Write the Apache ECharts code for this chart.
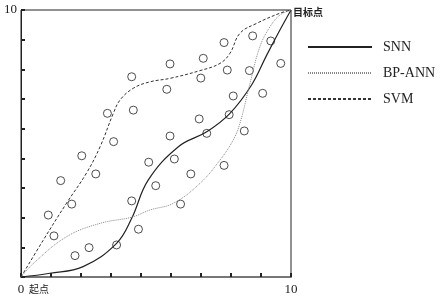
<!DOCTYPE html>
<html>
<head>
<meta charset="utf-8">
<script src="https://cdn.jsdelivr.net/npm/echarts@6/dist/echarts.min.js"></script>
<style>
  html, body { margin: 0; padding: 0; background: #fff; }
  #chart { width: 443px; height: 299px; }
</style>
</head>
<body>
<div id="chart"></div>
<script>
// curves from start (0,0) to target (10,10)
var snnCurve = [[0,0],[1.07,0.14],[2.3,0.39],[3.54,1.26],[4.1,2.2],[4.71,3.63],[5.83,4.88],[6.88,5.44],[7.74,6.13],[8.54,7.19],[9.1,8.31],[9.59,9.25],[10,10]];
var bpCurve = [[0,0],[0.46,0.51],[1.69,1.51],[2.93,2.01],[4.1,2.24],[4.78,2.51],[5.64,2.76],[6.63,3.51],[7.37,4.38],[7.86,5.13],[8.11,5.76],[8.48,7.25],[8.85,8.63],[9.22,9.37],[9.59,9.81],[10,10]];
var svmCurve = [[0,0],[0.83,1.39],[1.69,2.77],[2.43,3.9],[2.93,4.88],[3.42,6.13],[3.67,6.63],[4.16,7.07],[4.78,7.31],[5.52,7.44],[6.63,7.73],[7.37,8.0],[7.74,8.38],[8.11,9.13],[8.73,9.5],[9.59,9.88],[10,10]];

// sample points
var samples = [[1.01,2.32],[1.22,1.54],[1.47,3.61],[1.88,2.73],[2.0,0.8],[2.25,4.54],[2.52,1.1],[2.77,3.86],[3.2,6.13],[3.43,5.07],[3.54,1.2],[4.1,7.5],[4.16,6.25],[4.1,2.85],[4.35,1.79],[4.73,4.3],[4.99,3.42],[5.4,7.03],[5.52,7.98],[5.52,5.28],[5.68,4.42],[5.91,2.73],[6.29,3.86],[6.6,5.92],[6.66,7.45],[6.75,8.19],[6.88,5.38],[7.52,8.78],[7.52,4.18],[7.64,7.75],[7.71,6.08],[7.86,6.78],[8.27,5.47],[8.46,7.73],[8.58,9.03],[8.95,6.88],[9.25,8.84],[9.62,8.0]];

var seriesNames = ['SNN', 'BP-ANN', 'SVM'];
var tickValues = [];
for (var i = 0; i <= 9; i++) tickValues.push(i * 10 / 9);
var xLabels = [0, 10];
var yLabels = [10];

var serif = 'Liberation Serif';

var chart = echarts.init(document.getElementById('chart'));
chart.setOption({
  animation: false,
  grid: { left: 21, top: 10, right: 152, bottom: 22, show: true, borderColor: '#222', borderWidth: 1 },
  legend: {
    orient: 'vertical', left: 302, top: 35,
    itemWidth: 64, itemHeight: 14, itemGap: 12,
    data: seriesNames,
    itemStyle: { opacity: 0 },
    textStyle: { fontFamily: serif, fontSize: 14, color: '#222', padding: [0, 0, 0, 6] }
  },
  xAxis: {
    type: 'value', min: 0, max: 10,
    splitLine: { show: false },
    axisLine: { lineStyle: { color: '#777', width: 2 } },
    axisTick: { inside: true, length: 4, lineStyle: { color: '#222', width: 2 }, customValues: tickValues },
    axisLabel: { customValues: xLabels, fontFamily: serif, fontSize: 13, color: '#222', margin: 6 }
  },
  yAxis: {
    type: 'value', min: 0, max: 10,
    splitLine: { show: false },
    axisLine: { lineStyle: { color: '#222', width: 1 } },
    axisTick: { inside: true, length: 4, lineStyle: { color: '#222', width: 2 }, customValues: tickValues },
    axisLabel: { customValues: yLabels, fontFamily: serif, fontSize: 13, color: '#222', margin: 4 }
  },
  graphic: [
    { type: 'text', left: 29, top: 284, style: { text: '起点', font: '10px "Noto Sans CJK SC"', fill: '#222' } },
    { type: 'text', left: 293, top: 7, style: { text: '目标点', font: 'bold 10px "Noto Sans CJK SC"', fill: '#222' } }
  ],
  series: [
    { name: 'SNN', type: 'line', smooth: 0.4, symbol: 'none', data: snnCurve,
      lineStyle: { color: '#222', width: 1.2, type: 'solid' }, itemStyle: { color: '#222' } },
    { name: 'BP-ANN', type: 'line', smooth: 0.4, symbol: 'none', data: bpCurve,
      lineStyle: { color: '#888', width: 1, type: [1, 1] }, itemStyle: { color: '#888' } },
    { name: 'SVM', type: 'line', smooth: 0.4, symbol: 'none', data: svmCurve,
      lineStyle: { color: '#333', width: 1, type: [3, 2] }, itemStyle: { color: '#333' } },
    { name: 'samples', type: 'scatter', symbol: 'circle', symbolSize: 8, data: samples,
      itemStyle: { color: '#fff', borderColor: '#222', borderWidth: 1 } }
  ]
});
</script>
</body>
</html>
